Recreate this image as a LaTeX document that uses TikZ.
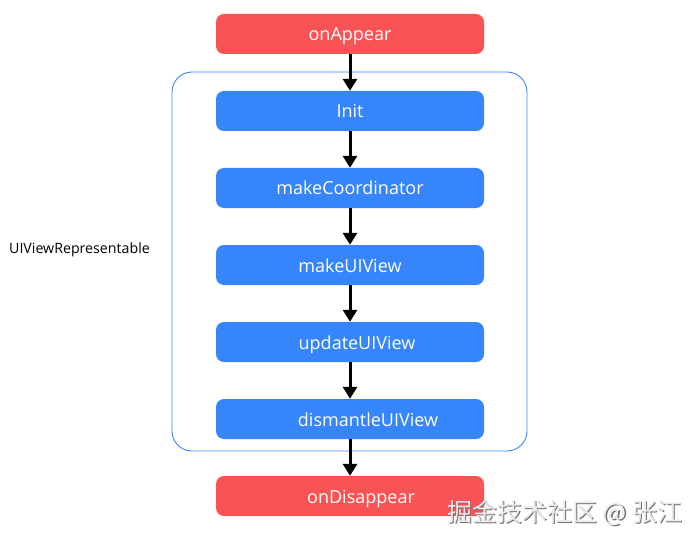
\documentclass[tikz,border=0pt]{standalone}
\usepackage{fontspec}
\setmainfont{Open Sans}
\newfontfamily\cjk{Noto Sans CJK SC}
\usetikzlibrary{arrows.meta}
\definecolor{redbox}{HTML}{F95355}
\definecolor{bluebox}{HTML}{3685FB}
\definecolor{frame}{HTML}{3A87F5}
\tikzset{
  stepbox/.style={rectangle, rounded corners=8pt, minimum width=268pt, minimum height=40pt, inner sep=0pt, text=white, font=\fontsize{18}{21}\selectfont, text height=14pt, text depth=0pt},
  redstep/.style={stepbox, fill=redbox},
  bluestep/.style={stepbox, fill=bluebox},
  flow/.style={line width=3pt, -{Triangle[length=12pt,width=14pt]}}
}
\begin{document}
\begin{tikzpicture}[x=1pt,y=-1pt]
\useasboundingbox (0,0) rectangle (700,545);
\fill[white] (0,0) rectangle (700,545);
\node[draw=frame, line width=0.9pt, rounded corners=20pt, minimum width=355pt, minimum height=379pt, inner sep=0pt] (frame) at (349.5,261.5) {};
\node[redstep] (appear) at (350,34) {onAppear};
\node[bluestep] (init) at (350,111) {Init};
\node[bluestep] (coord) at (350,188) {makeCoordinator};
\node[bluestep] (make) at (350,265) {makeUIView};
\node[bluestep] (update) at (350,342) {\hspace*{14pt}updateUIView};
\node[bluestep] (dismantle) at (350,419) {\hspace*{36pt}dismantleUIView};
\node[redstep] (disappear) at (350,496) {\hspace*{22pt}onDisappear};
\draw[flow] (appear) -- (init);
\draw[flow] (init) -- (coord);
\draw[flow] (coord) -- (make);
\draw[flow] (make) -- (update);
\draw[flow] (update) -- (dismantle);
\draw[flow] (dismantle) -- (disappear);
\node[anchor=west, inner sep=0pt, font=\fontsize{14.2}{17}\selectfont] (label) at (9,250) {UIViewRepresentable};
\node[anchor=west, inner sep=0pt, text=black!55, font=\cjk\fontsize{25}{29}\selectfont] (wmshadow) at (448.5,514.5) {掘金技术社区 @ 张江};
\node[anchor=west, inner sep=0pt, text=black!8, font=\cjk\fontsize{25}{29}\selectfont] (wm) at (447,513) {掘金技术社区 @ 张江};
\end{tikzpicture}
\end{document}
